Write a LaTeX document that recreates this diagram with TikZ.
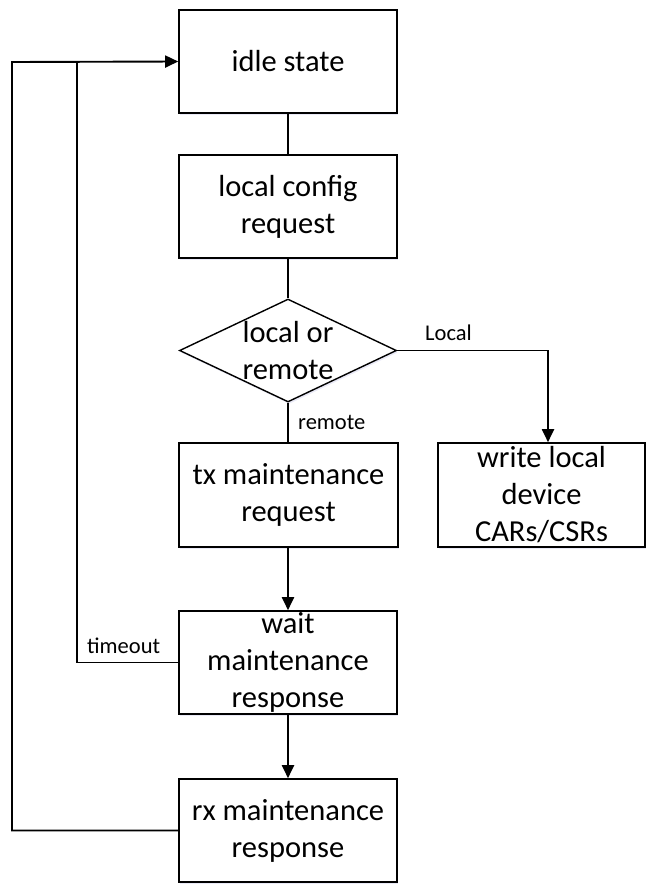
\documentclass[tikz,border=0pt]{standalone}
\usepackage{fontspec}
\setmainfont{Carlito}
\usetikzlibrary{shapes.geometric,arrows.meta,shadows}

\tikzset{
  mainfont/.style={font=\fontsize{30.5}{37}\selectfont},
  labfont/.style={font=\fontsize{22.5}{27}\selectfont},
  soft/.style={drop shadow={opacity=0.12,shadow xshift=1.2pt,shadow yshift=-2pt,fill=blue!40!gray}},
  box/.style={draw,line width=1.6pt,fill=white,soft,minimum width=218pt,minimum height=103pt,
              inner sep=0pt,align=center,mainfont},
  choice/.style={draw,line width=1.4pt,fill=white,soft,diamond,aspect=2.1,inner sep=0pt,
                 minimum width=217pt,minimum height=103pt},
  link/.style={line width=1.9pt},
  arr/.style={link,-{Triangle[length=13pt,width=12pt]}},
  tag/.style={labfont,inner sep=0pt}
}

\begin{document}
\begin{tikzpicture}[x=1pt,y=-1pt]
  \useasboundingbox (0,0) rectangle (647,884);

  % process steps
  \node[box] (idle) at (288,61.5) {idle state};
  \node[box] (cfg)  at (288,206.5) {local config\\request};
  \node[choice,label={[mainfont,align=center]center:local or\\remote}] (dec) at (288,350.5) {};
  \node[box,minimum width=219pt,minimum height=104pt] (tx) at (288.5,495) {tx maintenance\\request};
  \node[box,minimum width=207pt,minimum height=104pt] (wr) at (541.5,495) {write local\\device\\CARs/CSRs};
  \node[box] (wait) at (288,662.5) {wait\\maintenance\\response};
  \node[box] (rx)   at (288,830.5) {rx maintenance\\response};

  % forward flow
  \draw[link] (idle.south) -- (cfg.north);
  \draw[link] (cfg.south) -- (dec.north);
  \draw[link] (dec.south) -- (dec.south |- tx.north);
  \draw[arr] (dec.east) -| ([xshift=6.5pt]wr.north);
  \draw[arr] (tx.south -| dec.south) -- (wait.north);
  \draw[arr] (wait.south) -- (rx.north);

  % return paths to idle
  \coordinate (join) at (77,62);
  \coordinate (outer) at (12,62);
  \draw[link] (wait.west) -| (join);
  \draw[arr] (rx.west) -| (outer) -- (idle.west);

  % branch labels
  \node[tag,anchor=base west] (lLocal)  at (425,340) {Local};
  \node[tag,anchor=base west] (lRemote) at (298,429) {remote};
  \node[tag,anchor=base west] (lTime)   at (87,653) {timeout};
\end{tikzpicture}
\end{document}
